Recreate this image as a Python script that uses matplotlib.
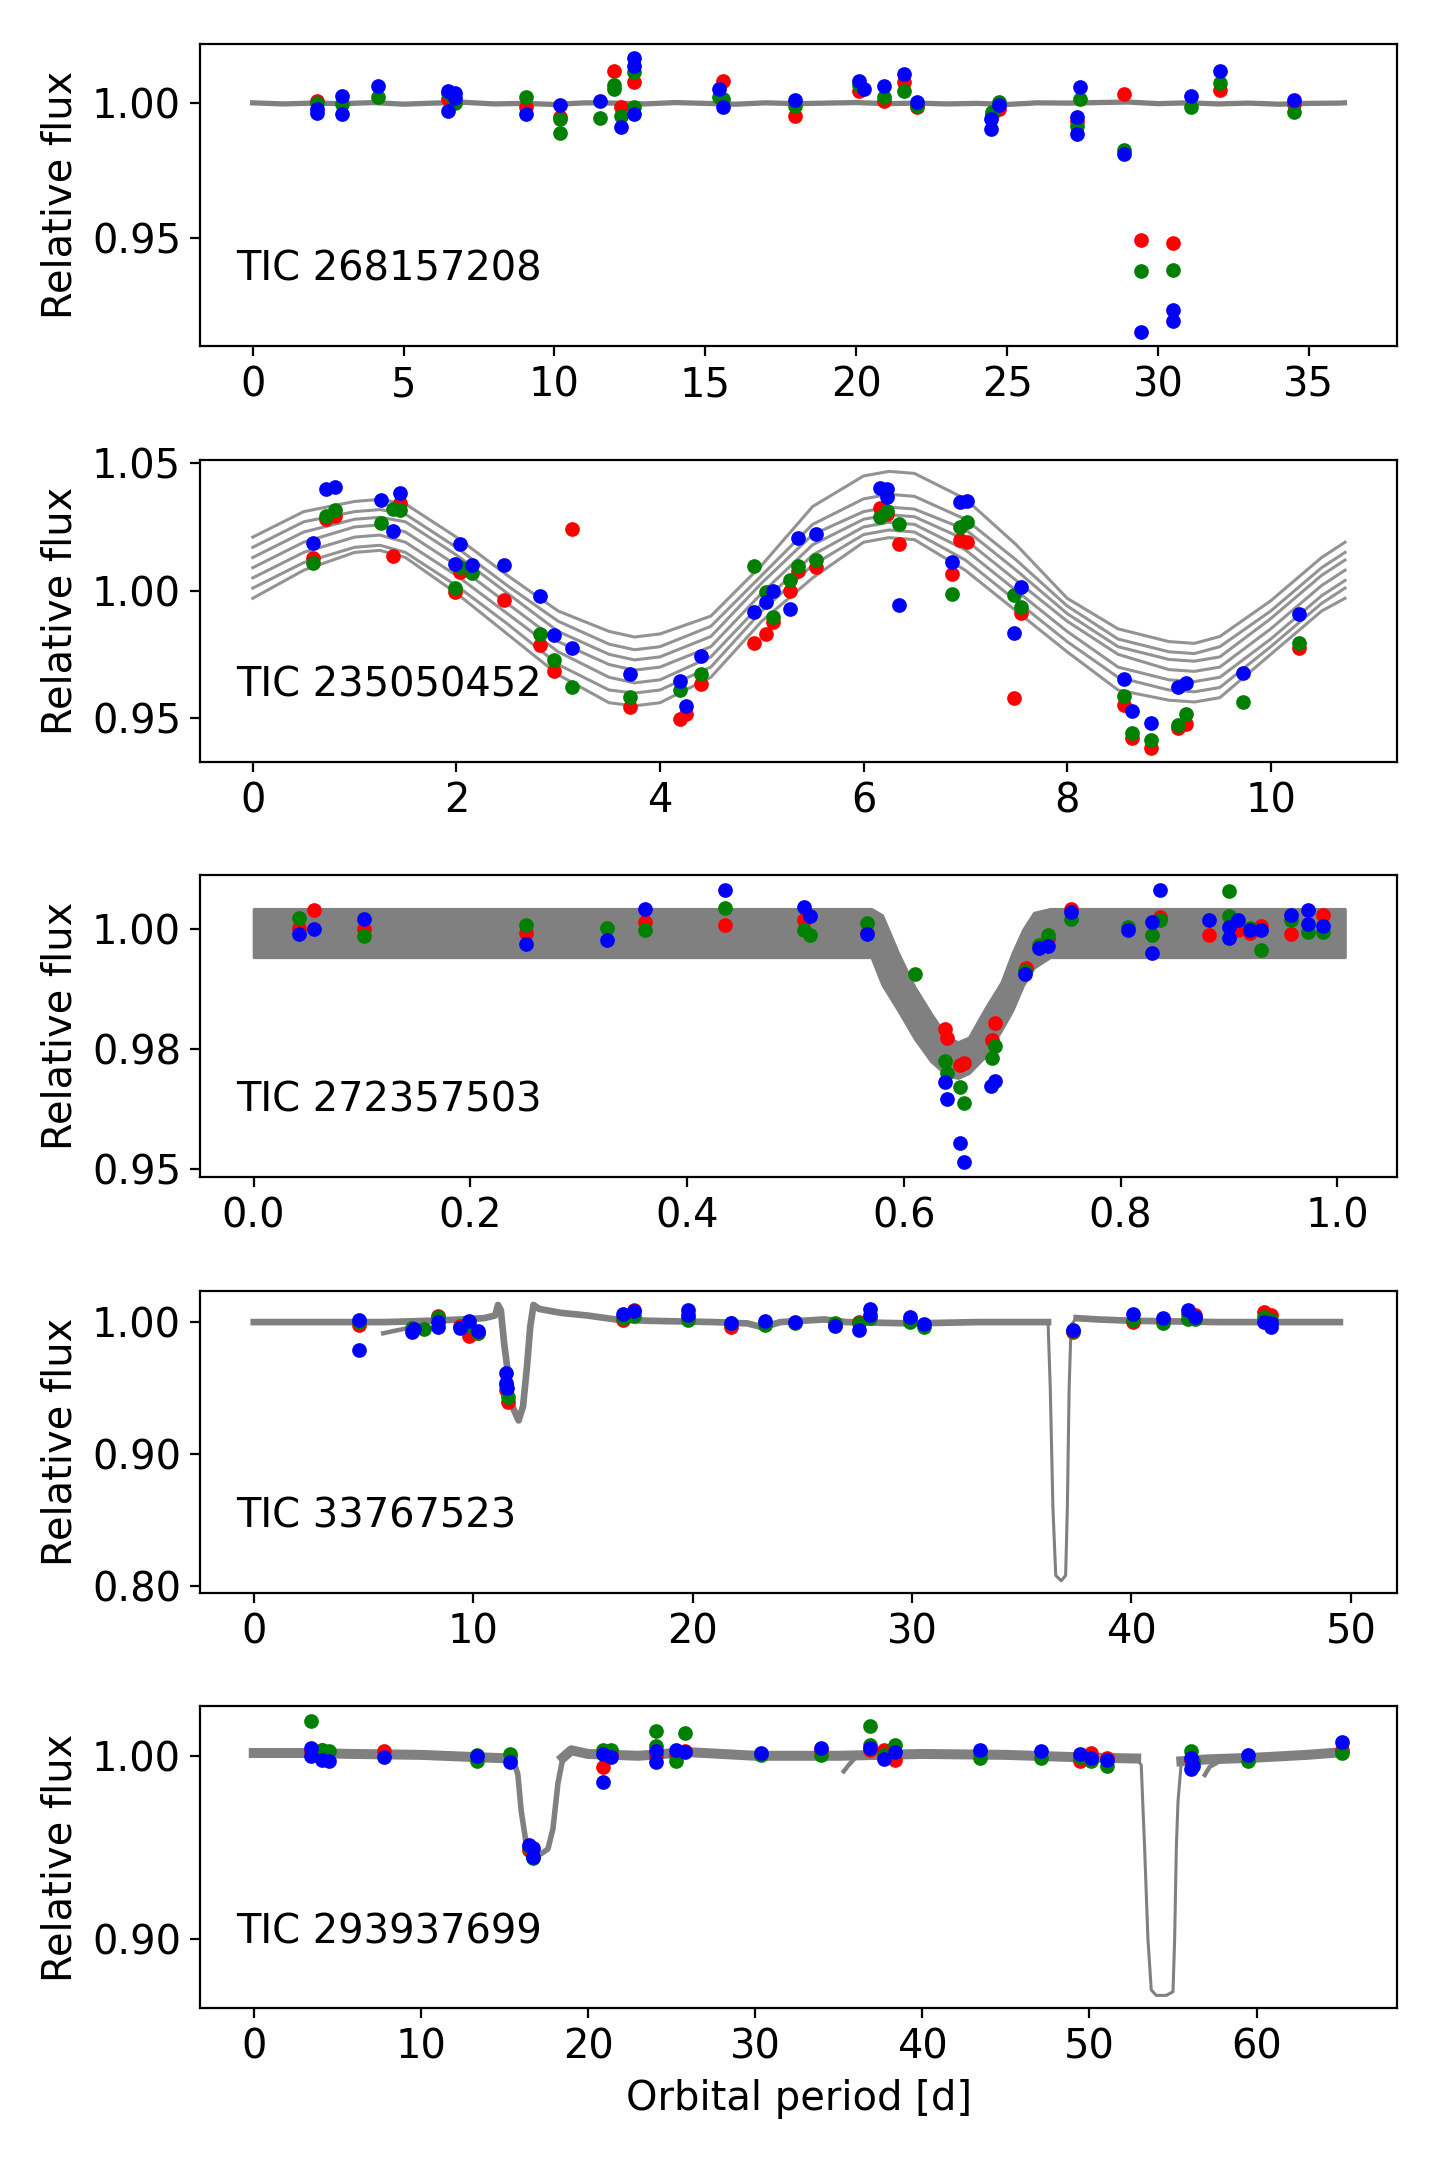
import matplotlib
matplotlib.use("Agg")
import matplotlib.pyplot as plt

plt.rcParams["font.family"] = ["DejaVu Sans"]
plt.rcParams["font.size"] = 14.4

GRAY = "#808080"

# ---------------- Panel 1: TIC 268157208 ----------------
p1_label = "TIC 268157208"
p1_gray_x = [0, 1, 2, 3, 4, 5, 6, 7, 8, 9, 10, 11, 12, 13, 14, 15, 16, 17, 18, 19,
             20, 21, 22, 23, 24, 25, 26, 27, 28, 29, 30, 31, 32, 33, 34, 35, 36, 36.18]
p1_gray_y = [1.0002, 0.9998, 1.0001, 0.9999, 1.0003, 0.9997, 1.0001, 1.0004, 0.9998, 1.0000,
             0.9996, 1.0002, 1.0001, 0.9998, 1.0003, 1.0000, 0.9997, 1.0002, 0.9999, 1.0001,
             1.0003, 0.9999, 1.0001, 0.9998, 1.0000, 0.9996, 1.0002, 1.0001, 1.0003, 1.0005,
             0.9999, 1.0002, 0.9998, 1.0001, 0.9997, 1.0000, 1.0001, 1.0002]
p1_red_x = [2.13, 6.46, 9.05, 10.17, 11.97, 12.2, 12.64, 15.6, 17.97, 20.1, 20.93, 21.57, 22.0,
            24.5, 24.73, 27.32, 28.88, 29.45, 30.49, 32.07, 34.5]
p1_red_y = [1.001, 1.0016, 0.9985, 0.9948, 1.012, 0.9988, 1.0078, 1.0084, 0.9954, 1.0047, 1.001,
            1.0078, 0.9985, 0.9955, 0.9979, 0.9936, 1.0035, 0.9494, 0.9481, 1.0049, 0.9998]
p1_green_x = [2.13, 2.95, 4.17, 6.46, 6.7, 9.05, 10.17, 10.17, 11.5, 11.97, 11.97, 12.2, 12.64,
              12.64, 15.47, 15.6, 17.97, 20.1, 20.93, 21.57, 22.0, 24.5, 24.73, 27.32, 27.41,
              28.88, 29.45, 30.49, 31.1, 32.07, 34.5]
p1_green_y = [1.000, 0.9998, 1.0022, 1.004, 1.000, 1.0022, 0.9942, 0.989, 0.9946, 1.007, 1.0053,
              0.9954, 1.0115, 0.9985, 1.0022, 1.0016, 0.999, 1.007, 1.0022, 1.0047, 0.9991,
              0.9967, 1.0005, 0.9917, 1.0016, 0.9825, 0.9378, 0.938, 0.9985, 1.0074, 0.9967]
p1_blue_x = [2.13, 2.13, 2.95, 2.95, 4.17, 6.46, 6.46, 6.7, 6.7, 9.05, 10.17, 11.5, 12.2, 12.64,
             12.64, 12.64, 15.47, 15.6, 17.97, 20.1, 20.26, 20.93, 21.57, 22.0, 24.46, 24.46,
             24.73, 27.32, 27.32, 27.41, 28.88, 29.45, 30.49, 30.49, 31.1, 32.07, 34.5]
p1_blue_y = [0.9979, 0.9964, 1.0028, 0.996, 1.0065, 1.0047, 0.9973, 1.004, 1.002, 0.996, 0.9995,
             1.001, 0.9911, 1.017, 1.014, 0.996, 1.0053, 0.9988, 1.0014, 1.0084, 1.0053, 1.0065,
             1.0109, 1.0004, 0.9942, 0.9905, 0.9994, 0.9948, 0.9886, 1.0062, 0.9812, 0.9152,
             0.9232, 0.9191, 1.0028, 1.0119, 1.0012]
p1_xticks = [0, 5, 10, 15, 20, 25, 30, 35]
p1_yticks = [0.95, 1.00]
p1_yticklabels = ["0.95", "1.00"]

# ---------------- Panel 2: TIC 235050452 ----------------
p2_label = "TIC 235050452"
p2_strand_x = [0, 0.5, 1, 1.25, 1.5, 2, 2.5, 3, 3.5, 3.75, 4, 4.5, 5, 5.5, 6, 6.25, 6.5, 7,
               7.5, 8, 8.5, 9, 9.25, 9.5, 10, 10.5, 10.73]
p2_strands = [
    [1.021, 1.031, 1.035, 1.0358, 1.034, 1.021, 1.006, 0.992, 0.984, 0.9818, 0.983, 0.990,
     1.010, 1.033, 1.045, 1.0468, 1.046, 1.036, 1.018, 0.997, 0.985, 0.980, 0.9793, 0.982,
     0.996, 1.013, 1.019],
    [1.017, 1.027, 1.031, 1.0318, 1.030, 1.017, 1.002, 0.988, 0.979, 0.9768, 0.978, 0.986,
     1.006, 1.026, 1.036, 1.0378, 1.037, 1.028, 1.012, 0.994, 0.981, 0.976, 0.9753, 0.978,
     0.992, 1.009, 1.015],
    [1.013, 1.023, 1.028, 1.0288, 1.027, 1.014, 0.999, 0.984, 0.975, 0.9728, 0.974, 0.982,
     1.003, 1.022, 1.031, 1.0328, 1.032, 1.024, 1.008, 0.991, 0.978, 0.973, 0.9723, 0.974,
     0.989, 1.006, 1.012],
    [1.009, 1.019, 1.025, 1.0258, 1.023, 1.010, 0.995, 0.980, 0.971, 0.9688, 0.970, 0.978,
     0.999, 1.018, 1.028, 1.0298, 1.029, 1.020, 1.004, 0.988, 0.975, 0.969, 0.9683, 0.970,
     0.985, 1.002, 1.008],
    [1.005, 1.015, 1.021, 1.0218, 1.019, 1.006, 0.991, 0.976, 0.966, 0.9638, 0.965, 0.974,
     0.995, 1.014, 1.025, 1.0268, 1.026, 1.016, 1.000, 0.984, 0.970, 0.965, 0.9643, 0.966,
     0.981, 0.998, 1.004],
    [1.001, 1.011, 1.017, 1.0178, 1.015, 1.002, 0.987, 0.971, 0.961, 0.9598, 0.961, 0.970,
     0.992, 1.010, 1.022, 1.0238, 1.023, 1.012, 0.996, 0.980, 0.966, 0.961, 0.9603, 0.962,
     0.978, 0.995, 1.001],
    [0.997, 1.008, 1.015, 1.0158, 1.013, 0.999, 0.983, 0.967, 0.956, 0.9548, 0.956, 0.966,
     0.988, 1.005, 1.019, 1.0208, 1.020, 1.008, 0.992, 0.976, 0.961, 0.957, 0.9563, 0.958,
     0.975, 0.992, 0.997],
]
p2_red_x = [0.594, 0.716, 0.805, 1.375, 1.444, 1.985, 2.04, 2.467, 2.824, 2.958, 3.14, 3.705,
            4.195, 4.26, 4.406, 4.92, 5.046, 5.11, 5.276, 5.352, 5.537, 6.16, 6.226, 6.35, 6.87,
            6.95, 7.02, 7.48, 7.55, 8.56, 8.64, 8.82, 9.09, 9.17, 10.28]
p2_red_y = [1.013, 1.0283, 1.0293, 1.0137, 1.0345, 0.9996, 1.0074, 0.9964, 0.9788, 0.9684,
            1.0241, 0.9544, 0.9495, 0.9514, 0.9634, 0.9796, 0.9831, 0.9876, 1.0, 1.0078, 1.0091,
            1.0326, 1.0299, 1.0182, 1.0065, 1.0198, 1.0191, 0.9577, 0.9913, 0.9551, 0.9423,
            0.9382, 0.946, 0.9478, 0.9775]
p2_green_x = [0.594, 0.716, 0.805, 1.264, 1.375, 1.444, 1.985, 2.04, 2.15, 2.824, 2.958, 3.14,
              3.705, 4.195, 4.406, 4.92, 5.046, 5.11, 5.276, 5.352, 5.537, 6.16, 6.226, 6.35,
              6.87, 6.95, 7.02, 7.48, 7.55, 8.56, 8.64, 8.82, 9.09, 9.17, 9.73, 10.28]
p2_green_y = [1.0107, 1.0293, 1.0315, 1.0264, 1.0319, 1.0315, 1.001, 1.0091, 1.0069, 0.9831,
              0.9727, 0.962, 0.9581, 0.9612, 0.9672, 1.0098, 0.9996, 0.9898, 1.0042, 1.0098,
              1.012, 1.0289, 1.0313, 1.026, 0.9987, 1.0251, 1.027, 0.9983, 0.9935, 0.9587,
              0.944, 0.9414, 0.9473, 0.9514, 0.9564, 0.9796]
p2_blue_x = [0.594, 0.716, 0.805, 1.264, 1.375, 1.444, 1.985, 2.04, 2.15, 2.467, 2.824, 2.958,
             3.14, 3.705, 4.195, 4.26, 4.406, 4.92, 5.046, 5.11, 5.276, 5.352, 5.537, 6.16,
             6.226, 6.226, 6.35, 6.87, 6.95, 7.02, 7.48, 7.55, 8.56, 8.64, 8.82, 9.09, 9.17,
             9.73, 10.28]
p2_blue_y = [1.0186, 1.0397, 1.0408, 1.0355, 1.0234, 1.0382, 1.0104, 1.0182, 1.01, 1.0102,
             0.998, 0.9824, 0.9775, 0.9672, 0.9645, 0.9548, 0.9742, 0.9918, 0.9957, 1.0,
             0.9928, 1.0206, 1.0221, 1.0404, 1.0397, 1.0368, 0.9944, 1.0113, 1.0348, 1.0352,
             0.9835, 1.0016, 0.9655, 0.9527, 0.9479, 0.9622, 0.9639, 0.9678, 0.9909]
p2_xticks = [0, 2, 4, 6, 8, 10]
p2_yticks = [0.95, 1.00, 1.05]
p2_yticklabels = ["0.95", "1.00", "1.05"]

# ---------------- Panel 3: TIC 272357503 ----------------
p3_label = "TIC 272357503"
p3_band_x = [0.0, 0.57, 0.58, 0.595, 0.61, 0.625, 0.64, 0.65, 0.66, 0.675, 0.69, 0.70, 0.71,
             0.72, 0.735, 1.007]
p3_band_hi = [1.0043, 1.0043, 1.0030, 0.9950, 0.9880, 0.9825, 0.9775, 0.9765, 0.9775, 0.9835,
              0.9890, 0.9950, 1.0000, 1.0035, 1.0043, 1.0043]
p3_band_lo = [0.9942, 0.9942, 0.9885, 0.9830, 0.9772, 0.9725, 0.9695, 0.9690, 0.9700, 0.9735,
              0.9790, 0.9830, 0.9883, 0.9920, 0.9942, 0.9942]
p3_red_x = [0.0416, 0.056, 0.102, 0.251, 0.361, 0.435, 0.508, 0.566, 0.6377, 0.6402, 0.6515,
            0.6555, 0.6843, 0.6812, 0.7128, 0.7333, 0.754, 0.836, 0.882, 0.908, 0.919, 0.93,
            0.957, 0.987]
p3_red_y = [1.0003, 1.004, 1.0001, 0.9992, 1.0015, 1.001, 1.0019, 0.9992, 0.9793, 0.9774,
            0.9717, 0.9722, 0.9805, 0.9769, 0.992, 0.998, 1.0043, 1.0027, 0.9988, 0.9998,
            0.9993, 1.0008, 0.9991, 1.0031]
p3_green_x = [0.0416, 0.102, 0.251, 0.326, 0.361, 0.435, 0.508, 0.513, 0.5662, 0.6101, 0.6377,
              0.6395, 0.6515, 0.6555, 0.6837, 0.6812, 0.7119, 0.725, 0.7333, 0.754, 0.807,
              0.829, 0.836, 0.9, 0.9, 0.919, 0.93, 0.957, 0.973, 0.987]
p3_green_y = [1.0024, 0.9986, 1.001, 1.0003, 0.9998, 1.0045, 0.9999, 0.9988, 1.0013, 0.9906,
              0.9726, 0.9701, 0.9671, 0.9638, 0.9757, 0.9731, 0.9913, 0.9967, 0.9988, 1.0022,
              1.0006, 0.9988, 1.0019, 1.0081, 1.0029, 1.0003, 0.9958, 1.0019, 0.9994, 0.9994]
p3_blue_x = [0.0416, 0.056, 0.102, 0.251, 0.326, 0.361, 0.435, 0.508, 0.513, 0.5662, 0.6377,
             0.6395, 0.6515, 0.6555, 0.680, 0.6843, 0.7119, 0.725, 0.7333, 0.754, 0.807, 0.829,
             0.829, 0.836, 0.882, 0.9, 0.9, 0.908, 0.919, 0.93, 0.957, 0.973, 0.973, 0.987]
p3_blue_y = [0.9991, 1.0001, 1.0022, 0.9969, 0.9979, 1.0042, 1.0083, 1.0047, 1.0029, 0.999,
             0.9681, 0.9646, 0.9555, 0.9515, 0.9674, 0.9683, 0.9908, 0.9962, 0.9966, 1.0037,
             0.9998, 0.9951, 1.0015, 1.0083, 1.0019, 1.0006, 0.9983, 1.002, 0.9999, 0.9999,
             1.0031, 1.004, 1.0012, 1.0008]
p3_xticks = [0.0, 0.2, 0.4, 0.6, 0.8, 1.0]
p3_yticks = [0.95, 0.975, 1.00]
p3_yticklabels = ["0.95", "0.98", "1.00"]

# ---------------- Panel 4: TIC 33767523 ----------------
p4_label = "TIC 33767523"
p4_gray_x = [0.0, 4.0, 6.0, 8.0, 9.5, 10.5, 11.0, 11.13, 11.26, 11.41, 11.64, 11.79, 12.07,
             12.27, 12.45, 12.6, 12.75, 13.0, 14.0, 15.2, 16.5, 18.0, 21.0, 22.5, 23.2, 24.0,
             26.0, 27.0, 30.0, 33.0, 36.2, 36.3, 36.42, 36.55, 36.8, 37.0, 37.08, 37.16, 37.25,
             37.5, 38.5, 40.0, 44.0, 49.5]
p4_gray_y = [1.000, 1.000, 1.000, 1.001, 1.002, 1.003, 1.005, 1.013, 1.009, 0.984, 0.954,
             0.936, 0.9255, 0.936, 0.966, 0.9965, 1.013, 1.010, 1.007, 1.005, 1.002, 1.001,
             1.000, 0.999, 0.996, 1.000, 1.002, 1.000, 0.999, 1.000, 1.000, 0.950, 0.860,
             0.808, 0.804, 0.808, 0.860, 0.950, 0.998, 1.003, 1.002, 1.001, 1.000, 1.000]
p4_branch_x = [5.9, 6.3, 6.9]
p4_branch_y = [0.9915, 0.993, 0.995]
p4_red_x = [4.8, 8.38, 9.38, 9.8, 10.2, 11.51, 11.57, 16.83, 17.34, 19.77, 21.73, 26.47, 27.6,
            29.9, 37.35, 40.08, 41.42, 42.59, 42.88, 46.02, 46.36]
p4_red_y = [0.9977, 1.0044, 0.997, 0.9894, 0.992, 0.9485, 0.9396, 1.0015, 1.009, 1.003,
            0.9965, 0.998, 1.0003, 1.002, 0.9927, 1.0003, 1.001, 1.006, 1.0053, 1.0078, 1.0053]
p4_green_x = [4.8, 7.21, 7.74, 8.38, 9.8, 10.2, 11.51, 11.57, 16.83, 17.34, 19.77, 21.73,
              23.32, 24.67, 26.47, 27.6, 28.1, 29.9, 30.53, 37.35, 40.08, 41.42, 42.59, 42.88,
              46.02, 46.36]
p4_green_y = [1.0003, 0.9952, 0.9945, 1.004, 0.998, 0.9914, 0.9523, 0.9434, 1.003, 1.0046,
              1.0015, 0.999, 0.9977, 0.999, 0.9995, 0.999, 1.0028, 1.0003, 0.9965, 0.9933,
              1.0015, 0.9995, 1.002, 1.002, 1.004, 1.0015]
p4_blue_x = [4.8, 4.8, 7.21, 7.32, 8.38, 8.38, 9.38, 9.8, 10.2, 11.51, 11.51, 11.55, 16.83,
             17.34, 19.77, 19.77, 21.73, 23.32, 24.67, 26.47, 27.6, 28.1, 28.1, 29.9, 30.53,
             37.35, 40.08, 41.42, 42.59, 42.88, 46.02, 46.36, 46.36]
p4_blue_y = [1.0015, 0.9788, 0.9927, 0.9945, 1.0003, 0.9965, 0.9952, 1.001, 0.9934, 0.9616,
             0.9536, 0.9498, 1.0058, 1.0086, 1.0091, 1.0055, 0.9995, 1.0008, 1.0, 0.997,
             0.9939, 1.0096, 1.0053, 1.004, 0.9985, 0.9939, 1.0061, 1.0028, 1.0091, 1.0035,
             1.0003, 0.9965, 0.999]
p4_xticks = [0, 10, 20, 30, 40, 50]
p4_yticks = [0.80, 0.90, 1.00]
p4_yticklabels = ["0.80", "0.90", "1.00"]

# ---------------- Panel 5: TIC 293937699 ----------------
p5_label = "TIC 293937699"
p5_gray_x = [0.0, 3.0, 6.0, 10.0, 14.0, 15.5, 15.8, 16.0, 16.3, 16.6, 17.2, 17.6, 17.9, 18.2,
             18.5, 19.0, 20.0, 23.0, 26.0, 28.0, 30.0, 35.0, 40.0, 45.0, 50.0, 52.8, 53.1,
             53.3, 53.5, 53.7, 54.0, 54.6, 55.0, 55.1, 55.2, 55.3, 55.5, 57.0, 60.0, 63.0, 65.2]
p5_gray_y = [1.0015, 1.0015, 1.001, 1.0005, 0.999, 0.9985, 0.990, 0.970, 0.952, 0.947, 0.9465,
             0.949, 0.960, 0.985, 0.999, 1.003, 1.001, 1.000, 1.002, 1.001, 1.000, 1.000, 1.001,
             1.0005, 0.999, 0.9985, 0.995, 0.950, 0.900, 0.872, 0.869, 0.869, 0.871, 0.900,
             0.950, 0.975, 0.997, 0.998, 0.999, 1.0005, 1.002]
p5_branch1_x = [35.3, 35.6, 36.0]
p5_branch1_y = [0.9915, 0.995, 0.999]
p5_branch2_x = [56.9, 57.2, 57.8]
p5_branch2_y = [0.9895, 0.994, 0.997]
p5_red_x = [3.41, 4.07, 7.81, 16.45, 20.9, 21.4, 24.09, 25.25, 25.8, 33.94, 36.9, 37.73, 38.34,
            43.45, 49.45, 50.1, 51.04, 56.05, 65.1]
p5_red_y = [1.0024, 1.003, 1.0024, 0.9485, 0.9938, 1.001, 1.0, 1.0005, 1.0024, 1.0033, 1.0033,
            1.0033, 0.9978, 1.0015, 0.9969, 1.0015, 0.9987, 0.9978, 1.0033]
p5_green_x = [3.41, 4.07, 4.51, 13.37, 13.37, 15.35, 16.45, 16.72, 20.9, 21.4, 24.09, 24.09,
              25.25, 25.8, 30.36, 33.94, 36.9, 36.9, 37.73, 38.34, 43.45, 47.08, 49.45, 50.1,
              51.04, 56.05, 56.2, 59.5, 65.1]
p5_green_y = [1.0192, 1.0033, 1.0024, 1.0005, 0.9969, 1.0011, 0.9504, 0.944, 1.0029, 1.0029,
              1.0133, 1.0051, 0.9974, 1.0124, 1.0005, 1.0005, 1.0164, 1.006, 1.0005, 1.006,
              0.9987, 0.9987, 0.9996, 0.9969, 0.9945, 1.0024, 0.9969, 0.9969, 1.0015]
p5_blue_x = [3.41, 3.41, 4.07, 4.51, 7.81, 13.37, 15.35, 16.45, 16.72, 16.72, 20.9, 20.9, 21.4,
             24.09, 24.09, 25.25, 25.8, 30.36, 33.94, 36.9, 37.73, 38.34, 43.45, 47.08, 49.45,
             50.1, 51.04, 56.05, 56.05, 56.2, 59.5, 65.1]
p5_blue_y = [1.0042, 1.0, 0.9978, 0.9969, 0.9996, 1.0, 0.9964, 0.9513, 0.9495, 0.9449, 1.0011,
             0.9859, 0.9996, 1.0024, 0.9964, 1.0033, 1.0018, 1.0015, 1.0042, 1.0042, 0.9984,
             1.0018, 1.0033, 1.0024, 1.0011, 0.9987, 0.9978, 0.9987, 0.9927, 0.9945, 1.0005,
             1.0073]
p5_xticks = [0, 10, 20, 30, 40, 50, 60]
p5_yticks = [0.90, 1.00]
p5_yticklabels = ["0.90", "1.00"]

xlabel_text = "Orbital period [d]"
ylabel_text = "Relative flux"

# ---------------- Figure ----------------
fig = plt.figure(figsize=(7.2, 10.8), dpi=200)
L, W, H = 0.1392, 0.8309, 0.1398
bottoms = [0.8400, 0.6474, 0.4552, 0.2626, 0.0702]
axes = [fig.add_axes([L, b, W, H]) for b in bottoms]

MS = 28


def colour_points(ax, rx, ry, gx, gy, bx, by):
    ax.scatter(rx, ry, s=MS, c="red", linewidths=0, zorder=3)
    ax.scatter(gx, gy, s=MS, c="green", linewidths=0, zorder=4)
    ax.scatter(bx, by, s=MS, c="blue", linewidths=0, zorder=5)


def finish(ax, label, xticks, yticks, yticklabels, xlim, ylim):
    ax.set_xticks(xticks)
    ax.set_yticks(yticks)
    ax.set_yticklabels(yticklabels)
    ax.set_xlim(*xlim)
    ax.set_ylim(*ylim)
    ax.set_ylabel(ylabel_text)
    ax.text(0.03, 0.215, label, transform=ax.transAxes, va="baseline", ha="left")


# Panel 1
ax = axes[0]
ax.plot(p1_gray_x, p1_gray_y, color=GRAY, lw=1.9, zorder=2)
colour_points(ax, p1_red_x, p1_red_y, p1_green_x, p1_green_y, p1_blue_x, p1_blue_y)
finish(ax, p1_label, p1_xticks, p1_yticks, p1_yticklabels, (-1.73, 37.92), (0.910, 1.0222))

# Panel 2
ax = axes[1]
for strand in p2_strands:
    ax.plot(p2_strand_x, strand, color=GRAY, lw=1.1, alpha=0.85, zorder=2,
            solid_joinstyle="round")
colour_points(ax, p2_red_x, p2_red_y, p2_green_x, p2_green_y, p2_blue_x, p2_blue_y)
finish(ax, p2_label, p2_xticks, p2_yticks, p2_yticklabels, (-0.514, 11.24), (0.9329, 1.0514))

# Panel 3
ax = axes[2]
ax.fill_between(p3_band_x, p3_band_lo, p3_band_hi, color=GRAY, linewidth=1.0,
                edgecolor=GRAY, zorder=2)
colour_points(ax, p3_red_x, p3_red_y, p3_green_x, p3_green_y, p3_blue_x, p3_blue_y)
finish(ax, p3_label, p3_xticks, p3_yticks, p3_yticklabels, (-0.049, 1.055), (0.9484, 1.0114))

# Panel 4
ax = axes[3]
ax.plot(p4_gray_x, p4_gray_y, color=GRAY, lw=1.1, zorder=2)
ax.plot(p4_gray_x[:31], p4_gray_y[:31], color=GRAY, lw=2.4, zorder=2,
        solid_joinstyle="round")
ax.plot(p4_gray_x[39:], p4_gray_y[39:], color=GRAY, lw=2.4, zorder=2)
ax.plot(p4_branch_x, p4_branch_y, color=GRAY, lw=1.6, zorder=2)
colour_points(ax, p4_red_x, p4_red_y, p4_green_x, p4_green_y, p4_blue_x, p4_blue_y)
finish(ax, p4_label, p4_xticks, p4_yticks, p4_yticklabels, (-2.43, 52.1), (0.7949, 1.0237))

# Panel 5
ax = axes[4]
ax.plot(p5_gray_x, p5_gray_y, color=GRAY, lw=1.1, zorder=2)
ax.plot(p5_gray_x[:6], p5_gray_y[:6], color=GRAY, lw=3.6, zorder=2)
ax.plot(p5_gray_x[5:16], p5_gray_y[5:16], color=GRAY, lw=2.0, zorder=2)
ax.plot(p5_gray_x[14:26], p5_gray_y[14:26], color=GRAY, lw=3.6, zorder=2)
ax.plot(p5_gray_x[36:], p5_gray_y[36:], color=GRAY, lw=3.6, zorder=2)
ax.plot(p5_branch1_x, p5_branch1_y, color=GRAY, lw=1.6, zorder=2)
ax.plot(p5_branch2_x, p5_branch2_y, color=GRAY, lw=1.6, zorder=2)
colour_points(ax, p5_red_x, p5_red_y, p5_green_x, p5_green_y, p5_blue_x, p5_blue_y)
finish(ax, p5_label, p5_xticks, p5_yticks, p5_yticklabels, (-3.19, 68.4), (0.8619, 1.027))
ax.set_xlabel(xlabel_text)

fig.align_ylabels(axes)
fig.savefig("out.png", dpi=200)
